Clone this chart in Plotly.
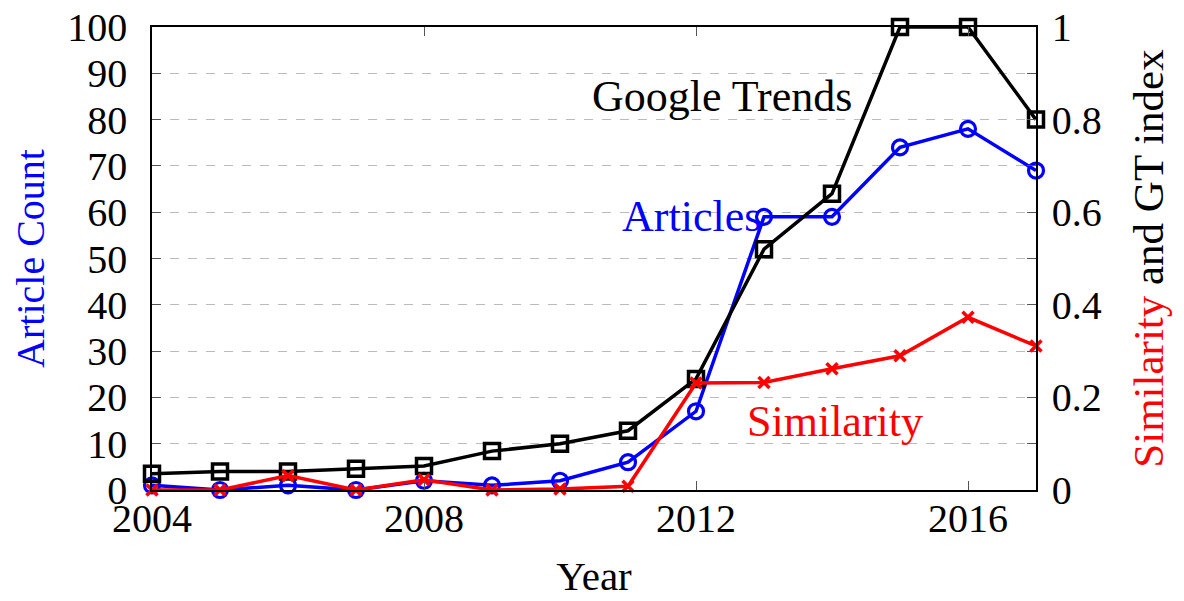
import plotly.graph_objects as go

years = list(range(2004, 2018))
articles = [1, 0, 1, 0, 2, 1, 2, 6, 17, 59, 59, 74, 78, 69]
google_trends = [0.035, 0.04, 0.04, 0.046, 0.052, 0.084, 0.10, 0.128, 0.24, 0.52, 0.64, 1.0, 1.0, 0.80]
similarity = [0.0, 0.0, 0.031, 0.0, 0.022, 0.0, 0.002, 0.008, 0.231, 0.232, 0.262, 0.29, 0.373, 0.311]

x_ticks = [2004, 2008, 2012, 2016]
left_ticks = list(range(0, 101, 10))
right_ticks = [i / 10 for i in range(11)]
right_labels = ["0", "", "0.2", "", "0.4", "", "0.6", "", "0.8", "", "1"]

FONT = "Liberation Serif"
TICK_FS = 40
ANN_FS = 44

fig = go.Figure()
fig.add_trace(go.Scatter(
    x=years, y=articles, mode="lines+markers", yaxis="y", cliponaxis=False,
    line=dict(color="rgb(0,0,255)", width=3.5),
    marker=dict(symbol="circle-open", size=15, color="rgb(0,0,255)", line=dict(width=3.2)),
    showlegend=False))
fig.add_trace(go.Scatter(
    x=years, y=google_trends, mode="lines+markers", yaxis="y2", cliponaxis=False,
    line=dict(color="black", width=3.5),
    marker=dict(symbol="square-open", size=15, color="black", line=dict(width=3.5)),
    showlegend=False))
fig.add_trace(go.Scatter(
    x=years, y=similarity, mode="lines+markers", yaxis="y2", cliponaxis=False,
    line=dict(color="rgb(255,0,0)", width=3.5),
    marker=dict(symbol="x-thin", size=11, color="rgb(255,0,0)", line=dict(width=3.5, color="rgb(255,0,0)")),
    showlegend=False))

fig.add_annotation(x=2012.38, y=0.849, yref="y2", text="Google Trends", showarrow=False,
                   font=dict(family=FONT, size=ANN_FS, color="black"))
fig.add_annotation(x=2011.94, y=59, yref="y", text="Articles", showarrow=False,
                   font=dict(family=FONT, size=ANN_FS, color="rgb(0,0,255)"))
fig.add_annotation(x=2014.04, y=0.147, yref="y2", text="Similarity", showarrow=False,
                   font=dict(family=FONT, size=ANN_FS, color="rgb(255,0,0)"))

# page body has an 8px default margin, so the figure is offset by 8px
fig.update_layout(
    width=1176, height=593,
    margin=dict(l=144, r=148, t=19, b=111),
    paper_bgcolor="white", plot_bgcolor="white",
    font=dict(family=FONT, size=TICK_FS, color="black"),
    xaxis=dict(range=[2004, 2017], tickvals=x_ticks, ticks="inside", ticklen=9,
               tickcolor="#555555", tickwidth=1, showgrid=False, zeroline=False,
               showline=True, linecolor="black", linewidth=1.5, mirror="ticks",
               automargin=False, ticklabelstandoff=-8, ticklabeloverflow="allow",
               title=dict(text="Year", font=dict(family=FONT, size=41), standoff=22),
               tickfont=dict(family=FONT, size=TICK_FS)),
    yaxis=dict(range=[0, 100], tickvals=left_ticks, ticks="inside", ticklen=9,
               tickcolor="#555555", showgrid=True, gridcolor="#bbbbbb", griddash="dash",
               gridwidth=1, zeroline=False, showline=True, linecolor="black",
               linewidth=1.5, mirror=True, automargin=False, ticklabelstandoff=15,
               ticklabeloverflow="allow",
               title=dict(text="Article Count", font=dict(family=FONT, size=40, color="rgb(0,0,255)"), standoff=36),
               tickfont=dict(family=FONT, size=TICK_FS)),
    yaxis2=dict(range=[0, 1], overlaying="y", side="right", tickvals=right_ticks,
                ticktext=right_labels, ticks="inside", ticklen=9, tickcolor="#555555",
                showgrid=False, zeroline=False, showline=True, linecolor="black", linewidth=1.5,
                automargin=False, ticklabelstandoff=6, ticklabeloverflow="allow",
                title=dict(text="<span style='color:rgb(255,0,0)'>Similarity</span> and GT index",
                           font=dict(family=FONT, size=43, color="black"), standoff=32),
                tickfont=dict(family=FONT, size=TICK_FS)),
)

fig.write_html("out.html")
